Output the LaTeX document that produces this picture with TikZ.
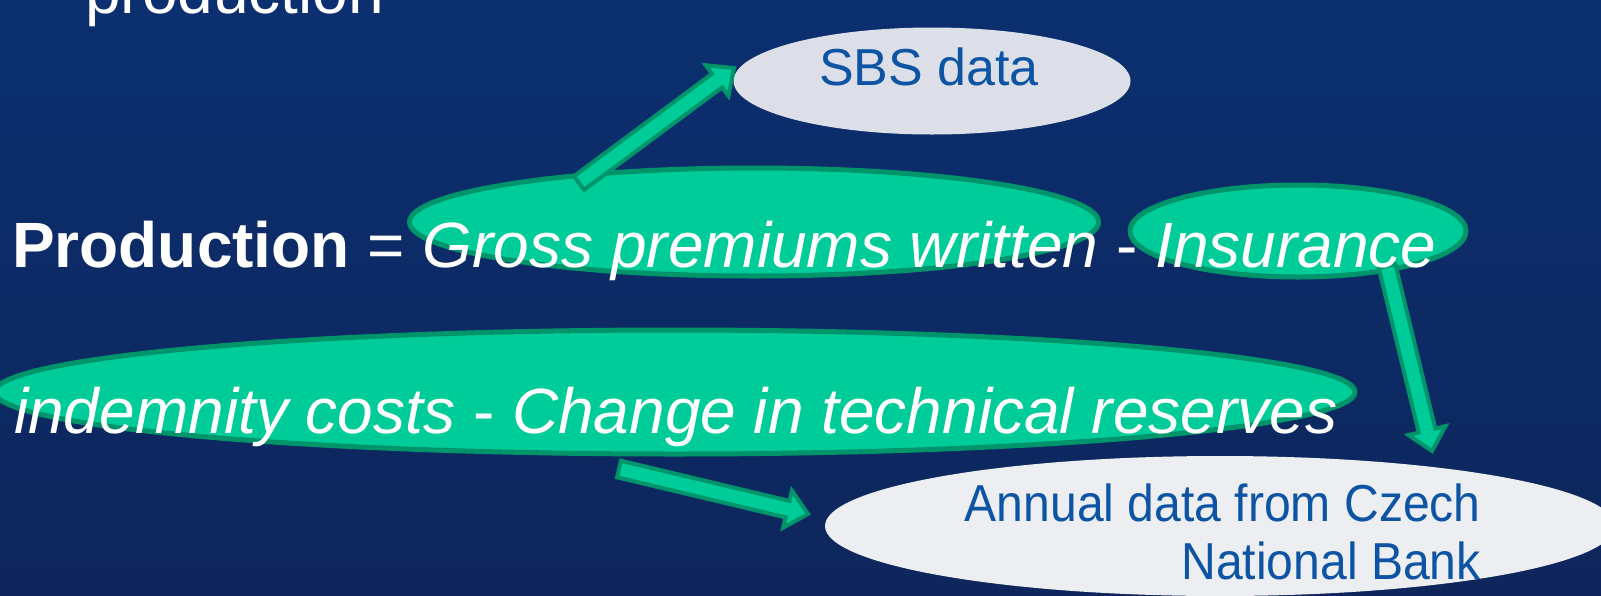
\documentclass[tikz,border=0pt]{standalone}
\usepackage{fontspec}
\setmainfont{Liberation Sans}
\usetikzlibrary{shapes.geometric,calc}
\definecolor{bgtop}{RGB}{11,47,111}
\definecolor{bgbot}{RGB}{14,38,92}
\definecolor{grfill}{RGB}{0,204,153}
\definecolor{grline}{RGB}{0,148,106}
\definecolor{gryA}{RGB}{220,223,232}
\definecolor{gryB}{RGB}{236,238,242}
\definecolor{txtblue}{RGB}{14,84,165}
\tikzset{
  greenell/.style={ellipse, draw=grline, fill=grfill, line width=5pt, inner sep=0pt},
  grayell/.style={ellipse, inner sep=0pt},
  whitetxt/.style={text=white, inner sep=0pt, anchor=base west, font=\fontsize{64}{77}\selectfont},
  bluetxt/.style={text=txtblue, inner sep=0pt, font=\fontsize{52}{62}\selectfont},
  barrow/.style={draw=grline, fill=grfill, line width=4pt, line join=miter},
}
\newcommand\blockarrow[2]{%
  \draw[barrow] let \p1=(#1), \p2=(#2),
    \n1={atan2(\y2-\y1,\x2-\x1)}, \n2={veclen(\x2-\x1,\y2-\y1)} in
    [shift={(\p1)}, rotate=\n1]
    (0,-8.5) -- (\n2-21,-8.5) -- (\n2-21,-19) -- (\n2,0) -- (\n2-21,19) -- (\n2-21,8.5) -- (0,8.5) -- cycle;}
\begin{document}
\begin{tikzpicture}[x=1pt, y=1pt]
\useasboundingbox (0,0) rectangle (1601,-595);
\clip (0,0) rectangle (1601,-595);
\shade[top color=bgtop, bottom color=bgbot] (0,0) rectangle (1601,-595);

% ellipses
\node[grayell, fill=gryA, minimum width=397pt, minimum height=107pt] (sbs) at (932,-81) {};
\node[grayell, fill=gryB, minimum width=790pt, minimum height=140pt] (annual) at (1220,-526) {};
\node[greenell, minimum width=689pt, minimum height=108pt] (gross) at (754,-222) {};
\node[greenell, minimum width=336pt, minimum height=92pt] (ins) at (1298,-231) {};
\node[greenell, minimum width=1360pt, minimum height=124pt] (indem) at (675,-392) {};

% arrow end points
\coordinate (a1s) at (579,-183);
\coordinate (a1e) at (734,-68);
\coordinate (a2s) at (1387,-266);
\coordinate (a2e) at (1432,-451);
\coordinate (a3s) at (619,-469);
\coordinate (a3e) at (808,-514);
\blockarrow{a1s}{a1e}
\blockarrow{a2s}{a2e}
\blockarrow{a3s}{a3e}

% texts
\node[whitetxt] (prodtop) at (85,-13) {production};
\node[whitetxt] (line1) at (12,-267) {\textbf{Production} = \textit{Gross premiums written} - \textit{Insurance}};
\node[whitetxt] (line2) at (14,-433) {\textit{indemnity costs} - \textit{Change in technical reserves}};
\node[bluetxt, anchor=base] (sbstxt) at (929,-85) {SBS data};
\node[bluetxt, anchor=base east] (antxt1) at (1481,-521) {\scalebox{0.925}[1]{Annual data from Czech}};
\node[bluetxt, anchor=base east] (antxt2) at (1481,-579) {\scalebox{0.925}[1]{National Bank}};
\end{tikzpicture}
\end{document}
